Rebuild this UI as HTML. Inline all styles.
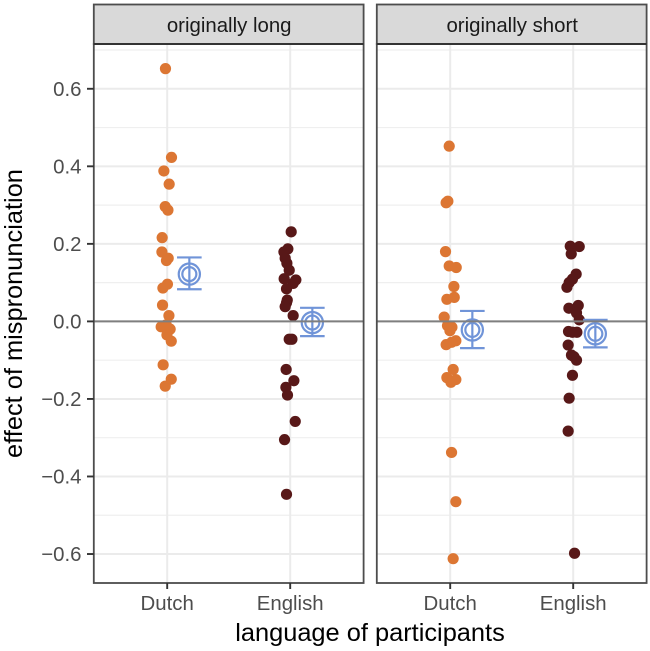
<!DOCTYPE html>
<html>
<head>
<meta charset="utf-8">
<style>
html,body{margin:0;padding:0;background:#fff;}
svg{display:block;font-family:"Liberation Sans",Arial,sans-serif;}
</style>
</head>
<body>
<svg id="chart" xmlns="http://www.w3.org/2000/svg" width="650" height="651" viewBox="0 0 650 651"></svg>
<script>
const panelTitles = ['originally long', 'originally short'];
const categories = ['Dutch', 'English'];
const yMajorTicks = [0.6, 0.4, 0.2, 0, -0.2, -0.4, -0.6];
const yMinorTicks = [0.7, 0.5, 0.3, 0.1, -0.1, -0.3, -0.5];
const yTickLabels = ['0.6', '0.4', '0.2', '0.0', '\u22120.2', '\u22120.4', '\u22120.6'];

const longDutchValues = [0.652,0.423,0.388,0.354,0.296,0.287,0.216,0.179,0.163,0.157,0.096,0.086,0.042,0.015,-0.014,-0.009,-0.020,-0.035,-0.051,-0.112,-0.149,-0.167];
const longDutchJitter = [-0.014,0.035,-0.027,0.016,-0.016,0.006,-0.041,-0.043,0.008,-0.006,0.002,-0.035,-0.038,0.014,-0.049,-0.008,0.024,-0.002,0.033,-0.033,0.033,-0.016];
const longEnglishValues = [0.231,0.187,0.179,0.163,0.150,0.132,0.107,0.110,0.098,0.084,0.055,0.048,0.038,0.015,-0.046,-0.046,-0.124,-0.153,-0.170,-0.190,-0.258,-0.305,-0.446];
const longEnglishJitter = [0.008,-0.019,-0.051,-0.041,-0.027,-0.008,0.046,-0.049,0.024,-0.030,-0.024,-0.030,-0.041,0.024,-0.008,0.014,-0.033,0.030,-0.035,-0.022,0.041,-0.046,-0.030];
const shortDutchValues = [0.452,0.310,0.306,0.180,0.143,0.139,0.090,0.062,0.057,0.011,-0.011,-0.015,-0.024,-0.050,-0.054,-0.060,-0.124,-0.145,-0.150,-0.157,-0.338,-0.465,-0.612];
const shortDutchJitter = [-0.008,-0.019,-0.033,-0.038,-0.008,0.049,0.030,0.033,-0.027,-0.049,-0.022,0.014,-0.002,0.046,0.011,-0.033,0.024,-0.027,0.046,0.006,0.011,0.046,0.024];
const shortEnglishValues = [0.194,0.193,0.174,0.122,0.109,0.100,0.088,0.041,0.034,0.022,0.004,-0.026,-0.028,-0.028,-0.061,-0.087,-0.091,-0.100,-0.139,-0.198,-0.283,-0.598];
const shortEnglishJitter = [-0.024,0.049,-0.016,0.024,-0.006,-0.033,-0.051,0.041,-0.035,0.027,0.049,-0.038,0.030,-0.006,-0.041,-0.014,0.006,0.027,-0.006,-0.033,-0.041,0.011];

const longMeans = [0.122, -0.003];
const longLower = [0.083, -0.038];
const longUpper = [0.165, 0.035];
const shortMeans = [-0.022, -0.032];
const shortLower = [-0.069, -0.067];
const shortUpper = [0.027, 0.004];

const svg = document.getElementById('chart');
const NS = 'http://www.w3.org/2000/svg';
const panelLefts = [93.8, 376.8];
const panelWidth = 269.8;
const panelTop = 44;
const panelBottom = 583;
const seriesColors = ['#dc7633', '#581818'];
const ciColor = '#7094d8';
const ciDodge = 0.18;

function yScale(v) { return 321.4 - v * 387.7; }
function xScale(panel, pos) { return panelLefts[panel] + 73.4 + (pos - 1) * 123; }

function make(tag, attrs, parent) {
  const el = document.createElementNS(NS, tag);
  Object.keys(attrs).forEach(function (k) { el.setAttribute(k, attrs[k]); });
  (parent || svg).appendChild(el);
  return el;
}

const panelSeries = [
  { vals: [longDutchValues, longEnglishValues], jit: [longDutchJitter, longEnglishJitter], m: longMeans, lo: longLower, hi: longUpper },
  { vals: [shortDutchValues, shortEnglishValues], jit: [shortDutchJitter, shortEnglishJitter], m: shortMeans, lo: shortLower, hi: shortUpper }
];

panelSeries.forEach(function (ps, p) {
  const left = panelLefts[p];
  const right = left + panelWidth;

  const bg = make('rect', { x: left, y: panelTop, width: panelWidth, height: panelBottom - panelTop, fill: '#fff' });
  
  

  yMinorTicks.forEach(function (v) {
    const g = make('line', { x1: left, x2: right, y1: yScale(v), y2: yScale(v), stroke: '#efefef', 'stroke-width': 1.2 });
    
    
  });
  yMajorTicks.forEach(function (v) {
    const g = make('line', { x1: left, x2: right, y1: yScale(v), y2: yScale(v), stroke: '#ebebeb', 'stroke-width': 2 });
    
    
  });
  categories.forEach(function (c, i) {
    const g = make('line', { x1: xScale(p, i + 1), x2: xScale(p, i + 1), y1: panelTop, y2: panelBottom, stroke: '#ebebeb', 'stroke-width': 2 });
    
    
  });

  ps.vals.forEach(function (values, s) {
    values.forEach(function (v, i) {
      const dot = make('circle', { cx: xScale(p, s + 1 + ps.jit[s][i]), cy: yScale(v), r: 5.6, fill: seriesColors[s] });
      
      
    });
  });

  ps.m.forEach(function (mean, s) {
    const x = xScale(p, s + 1 + ciDodge);
    const sets = [
      ['line', { x1: x, x2: x, y1: yScale(ps.hi[s]), y2: yScale(ps.lo[s]) }, 'ci-stem'],
      ['line', { x1: x - 12.3, x2: x + 12.3, y1: yScale(ps.hi[s]), y2: yScale(ps.hi[s]) }, 'ci-upper-cap'],
      ['line', { x1: x - 12.3, x2: x + 12.3, y1: yScale(ps.lo[s]), y2: yScale(ps.lo[s]) }, 'ci-lower-cap'],
      ['circle', { cx: x, cy: yScale(mean), r: 10.6, fill: 'none' }, 'mean-outer-ring'],
      ['circle', { cx: x, cy: yScale(mean), r: 7, fill: 'none' }, 'mean-inner-ring']
    ];
    sets.forEach(function (d) {
      const el = make(d[0], d[1]);
      el.setAttribute('stroke', ciColor);
      el.setAttribute('stroke-width', 2.2);
      
      
    });
  });

  const zero = make('line', { x1: left, x2: right, y1: yScale(0), y2: yScale(0), stroke: '#7f7f7f', 'stroke-width': 2 });
  
  

  const border = make('rect', { x: left, y: panelTop, width: panelWidth, height: panelBottom - panelTop, fill: 'none', stroke: '#4d4d4d', 'stroke-width': 1.8 });
  
  

  const strip = make('rect', { x: left, y: 4.5, width: panelWidth, height: panelTop - 4.5, fill: '#d9d9d9', stroke: '#4d4d4d', 'stroke-width': 1.8 });
  
  

  const stripLine = make('line', { x1: left, x2: right, y1: panelTop, y2: panelTop, stroke: '#333', 'stroke-width': 2 });
  
  

  const title = make('text', { x: left + panelWidth / 2 + 0.5, y: 32, 'text-anchor': 'middle', 'font-size': 20.4, fill: '#1a1a1a' });
  title.textContent = panelTitles[p];
  
  

  categories.forEach(function (c, i) {
    const x = xScale(p, i + 1);
    const tick = make('line', { x1: x, x2: x, y1: panelBottom, y2: panelBottom + 6, stroke: '#333', 'stroke-width': 1.9 });
    
    
    const label = make('text', { x: x, y: 610, 'text-anchor': 'middle', 'font-size': 20.4, fill: '#4d4d4d' });
    label.textContent = c;
    
    
  });
});

yMajorTicks.forEach(function (v, i) {
  const tick = make('line', { x1: 87, x2: 93.8, y1: yScale(v), y2: yScale(v), stroke: '#333', 'stroke-width': 1.9 });
  
  
  const label = make('text', { x: 81.5, y: yScale(v) + 7.2, 'text-anchor': 'end', 'font-size': 20.4, fill: '#4d4d4d' });
  label.textContent = yTickLabels[i];
  
  
});

const xTitle = make('text', { x: 370, y: 641, 'text-anchor': 'middle', 'font-size': 25.4, fill: '#000' });
xTitle.textContent = 'language of participants';



const yTitle = make('text', { x: 0, y: 0, transform: 'translate(22,313.5) rotate(-90)', 'text-anchor': 'middle', 'font-size': 25.4, fill: '#000' });
yTitle.textContent = 'effect of mispronunciation';


</script>
</body>
</html>
